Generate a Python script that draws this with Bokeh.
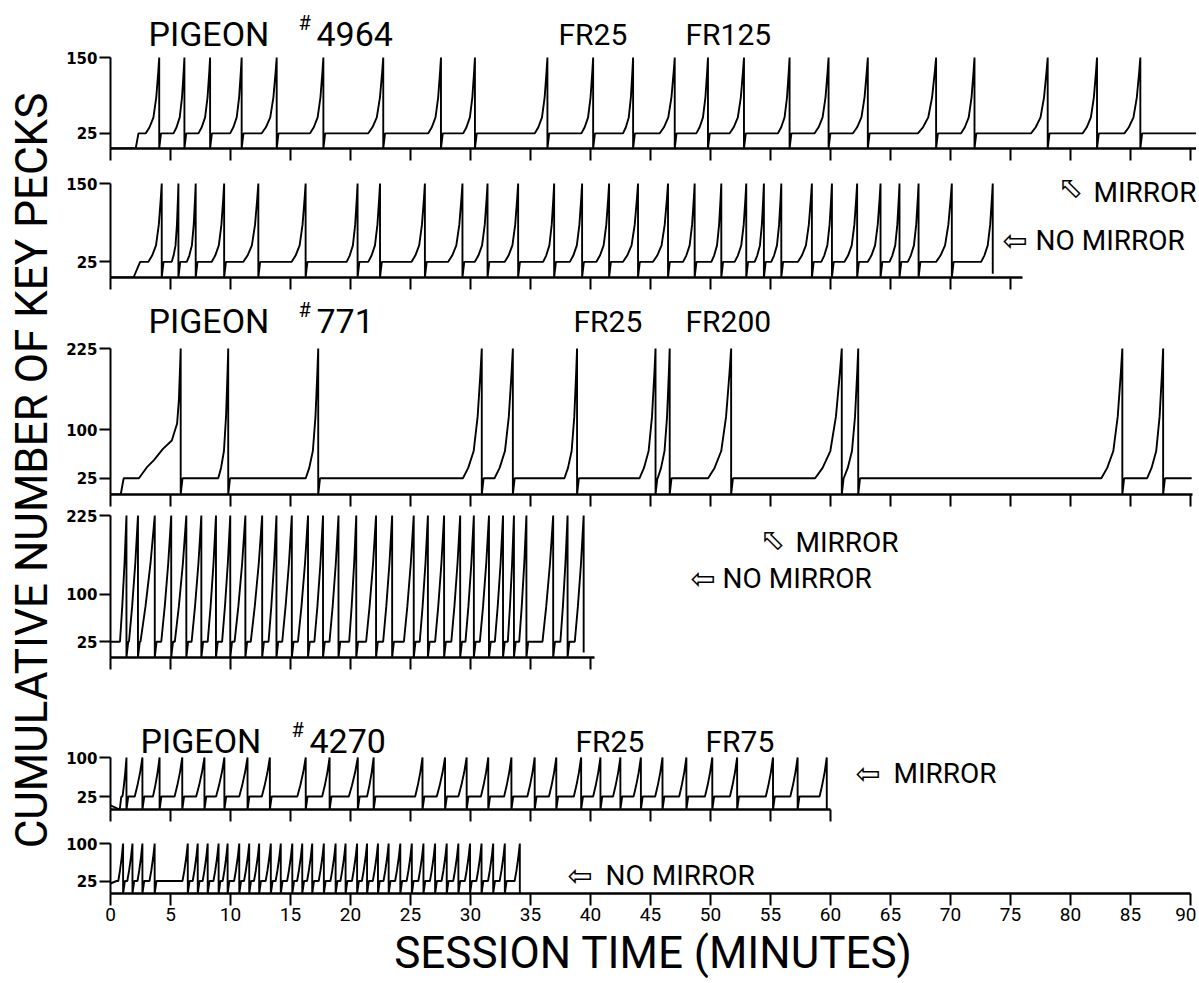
import math
from bokeh.plotting import figure
from bokeh.layouts import column, row
from bokeh.models import Range1d, FixedTicker
from bokeh.core.properties import value
from bokeh.embed import file_html
from bokeh.resources import INLINE

# ---------------- data (session minutes / cumulative key pecks) ----------------
minute_ticks = list(range(0, 95, 5))
minute_labels = [str(m) for m in minute_ticks]

# Pigeon 4964, mirror  (FR25 FR125)
p4964m_lead_t = [0.0, 2.10, 2.33]
p4964m_lead_v = [0, 0, 25]
p4964m_runs = [2.94, 5.25, 7.33, 9.97, 12.6, 16.63, 21.48, 26.48, 29.39, 35.36, 39.24,
               42.71, 45.77, 48.82, 51.6, 55.62, 58.68, 61.87, 67.28, 70.88, 76.71, 81.02, 84.49]
p4964m_resets = [4.06, 6.16, 8.30, 10.93, 13.85, 17.74, 22.73, 27.54, 30.37, 36.41, 40.22,
                 43.55, 47.02, 49.79, 52.79, 56.59, 59.84, 63.11, 68.80, 72.00, 78.10, 82.21, 85.82]

# Pigeon 4964, no mirror
p4964n_lead_t = [0.0, 1.92, 2.47]
p4964n_lead_v = [0, 0, 25]
p4964n_runs = [3.16, 5.10, 6.36, 8.44, 11.07, 15.10, 19.68, 21.48, 25.09, 28.14, 30.36, 32.86,
               36.05, 38.28, 40.49, 42.71, 45.21, 47.71, 50.07, 52.01, 53.68, 55.06, 57.29,
               59.23, 61.17, 63.11, 64.92, 66.44, 68.80, 72.55]
p4964n_resets = [4.27, 5.66, 7.10, 9.47, 12.32, 16.26, 20.59, 22.46, 26.20, 29.33, 31.42, 33.97,
                 36.97, 39.30, 41.55, 43.96, 46.46, 48.68, 50.90, 52.98, 54.45, 55.90, 58.45,
                 60.12, 62.22, 64.17, 65.75, 67.34, 70.11, 73.52]

# Pigeon 771, mirror  (FR25 FR200)
p771m_lead_t = [0.0, 0.85, 1.10, 2.37, 3.02, 3.62, 4.37, 5.11, 5.55, 5.70, 5.85]
p771m_lead_v = [0, 0, 25, 25, 41.7, 53.1, 70.3, 83.3, 109.4, 145.8, 225]
p771m_runs = [None, 8.98, 16.27, 29.37, 32.0, 37.83, 44.08, 45.6, 49.8, 58.72, 61.1, 82.57, 86.38]
p771m_resets = [5.85, 9.81, 17.31, 30.94, 33.53, 38.88, 45.42, 46.6, 51.72, 60.94, 62.31, 84.32, 87.72]

# Pigeon 771, no mirror
p771n_lead_t = [0.0]
p771n_lead_v = [25]
p771n_runs = [0.79, 1.54, 2.50, 4.23, 5.36, 6.76, 8.10, 9.30, 10.34, 11.69, 13.17, 14.31, 15.62,
              16.99, 18.25, 19.89, 21.30, 22.72, 24.45, 25.77, 27.05, 28.40, 29.58, 30.78, 32.03,
              33.11, 34.06, 36.0, 37.49, 38.69]
p771n_resets = [1.33, 2.29, 3.69, 5.06, 6.32, 7.57, 8.79, 9.98, 11.24, 12.64, 13.83, 15.11, 16.46,
                17.71, 19.0, 20.48, 22.13, 23.47, 25.27, 26.45, 27.8, 29.14, 30.28, 31.54, 32.71,
                33.62, 34.66, 36.89, 38.09, 39.43]

# Pigeon 4270, mirror  (FR25 FR75)
p4270m_lead_t = [0.0, 0.77, 0.90]
p4270m_lead_v = [8, 0, 25]
p4270m_runs = [1.0, 2.02, 3.54, 5.34, 7.14, 8.8, 10.73, 12.61, 15.57, 17.64, 19.86, 21.38, 25.39,
               27.19, 28.99, 30.87, 32.8, 34.74, 36.54, 38.61, 40.22, 41.88, 43.59, 45.39, 47.39,
               49.54, 51.62, 54.61, 56.65, 59.09]
p4270m_resets = [1.33, 2.66, 4.09, 5.98, 7.83, 9.49, 11.42, 13.28, 16.27, 18.26, 20.61, 21.93, 26.0,
                 27.88, 29.68, 31.48, 33.41, 35.35, 37.15, 39.22, 40.83, 42.49, 44.20, 46.0, 47.99,
                 50.15, 52.22, 55.21, 57.26, 59.69]

# Pigeon 4270, no mirror
p4270n_lead_t = [0.0, 0.5]
p4270n_lead_v = [20, 25]
p4270n_runs = [0.65, 1.4, 2.25, 3.25, 6.0, 6.85, 7.68, 8.58, 9.35, 10.3, 11.13, 11.96, 12.93, 13.76,
               14.72, 15.55, 16.38, 17.35, 18.33, 19.16, 20.12, 20.95, 21.86, 22.75, 23.72, 24.68,
               25.65, 26.62, 27.59, 28.56, 29.53, 30.49, 31.46, 32.43, 33.68]
p4270n_resets = [1.05, 1.83, 2.66, 3.68, 6.44, 7.27, 8.1, 9.01, 9.76, 10.73, 11.56, 12.39, 13.36,
                 14.19, 15.15, 15.98, 16.81, 17.78, 18.76, 19.59, 20.55, 21.38, 22.29, 23.18, 24.15,
                 25.11, 26.08, 27.05, 28.02, 28.99, 29.96, 30.92, 31.89, 32.86, 34.11]

# shape of one ratio run (fraction of run time, fraction of run height), read from the records
CURVED_T = [0.0, 0.28, 0.57, 0.78, 0.93, 1.0]
CURVED_V = [0.0, 0.08, 0.21, 0.475, 0.815, 1.0]
STRAIGHT_T = [0.0, 0.35, 0.7, 1.0]
STRAIGHT_V = [0.0, 0.28, 0.62, 1.0]
RISE = 0.15   # minutes the pen takes to climb the first 25 pecks after a reset


def trace(lead_t, lead_v, runs, resets, top, shape, end_t=None, last_drop=0):
    st, sv = shape
    xs, ys = list(lead_t), list(lead_v)
    n = len(resets)
    for i in range(n):
        r0, tr = runs[i], resets[i]
        if r0 is not None:
            xs.append(r0); ys.append(25)
            for ft, fv in zip(st[1:], sv[1:]):
                xs.append(r0 + ft * (tr - r0)); ys.append(25 + fv * (top - 25))
        if i == n - 1 and end_t is None:
            xs.append(tr); ys.append(last_drop)
        else:
            xs.append(tr); ys.append(0)
            xs.append(tr + RISE); ys.append(25)
    if end_t is not None:
        xs.append(end_t); ys.append(25)
    return xs, ys


CURVED = (CURVED_T, CURVED_V)
STRAIGHT = (STRAIGHT_T, STRAIGHT_V)

# ---------------- layout (page pixels) ----------------
X0_PX = 110
PXMIN = 12.0
XMAX = 90.5
FRAME_W = round(XMAX * PXMIN)
LEFT_W = 58
BORDER_L = X0_PX - LEFT_W
FONT = "Roboto"

x_range = Range1d(0, XMAX)


def xd(px):
    return (px - X0_PX) / PXMIN


def make_panel(fig_top, base, top_px, top_val, yticks, xbound, bottom, labels=False):
    frame_h = base - fig_top
    scale = (base - top_px) / top_val
    p = figure(width=BORDER_L + FRAME_W, height=frame_h + bottom, x_range=x_range,
               y_range=Range1d(0, frame_h / scale), output_backend="svg", toolbar_location=None,
               min_border_left=BORDER_L, min_border_right=0, min_border_top=0,
               min_border_bottom=bottom)
    p.outline_line_color = None
    p.grid.visible = False
    p.background_fill_color = "white"
    p.border_fill_color = "white"
    xa = p.xaxis[0]
    shown = [t for t in minute_ticks if t <= xbound]
    xa.bounds = (0, xbound)
    xa.axis_line_width = 2.6
    xa.major_tick_in = 0
    xa.minor_tick_in = 0
    if labels:
        xa.ticker = FixedTicker(ticks=shown)
        xa.major_label_overrides = {t: s for t, s in zip(minute_ticks, minute_labels)}
        xa.major_tick_line_width = 2
        xa.major_tick_out = 12
        xa.minor_tick_line_color = None
        xa.major_label_text_font = FONT
        xa.major_label_text_font_size = "19px"
        xa.major_label_standoff = 2
        xa.major_label_text_color = "black"
    else:
        # unlabeled panels: the 5-minute marks are drawn as (label-free) minor ticks
        xa.ticker = FixedTicker(ticks=[], minor_ticks=shown)
        xa.minor_tick_line_width = 2
        xa.minor_tick_line_color = "black"
        xa.minor_tick_out = 12
    ya = p.yaxis[0]
    ya.ticker = FixedTicker(ticks=yticks)
    ya.bounds = (0, top_val)
    ya.axis_line_width = 2
    ya.major_tick_line_width = 2
    ya.major_tick_out = 11
    ya.major_tick_in = 0
    ya.minor_tick_line_color = None
    ya.major_label_text_font = "DejaVu Sans"
    ya.major_label_text_font_style = "bold"
    ya.major_label_text_font_size = "15px"
    ya.major_label_standoff = 2
    ya.major_label_text_color = "black"

    def yd(py):
        return (base - py) / scale
    return p, yd


def add_text(p, x, y, txt, size, angle=0.0, font=FONT):
    p.text(x=[x], y=[y], text=[txt], text_font=value(font), text_font_size=size,
           text_align="left", text_baseline="middle", text_color="black", angle=angle)


LINE = dict(line_color="black", line_width=1.9)
ARROW = "\u21e6"

# panel 1
p1, y1 = make_panel(0, 148, 57, 150, [25, 150], 90.5, 15)
xs, ys = trace(p4964m_lead_t, p4964m_lead_v, p4964m_runs, p4964m_resets, 150, CURVED, end_t=90.5)
p1.line(xs, ys, **LINE)
add_text(p1, xd(148), y1(33), "PIGEON", "34px")
add_text(p1, xd(298), y1(22), "#", "20px")
add_text(p1, xd(316), y1(33), "4964", "34px")
add_text(p1, xd(558), y1(34), "FR25", "30px")
add_text(p1, xd(685), y1(34), "FR125", "30px")

# panel 2
p2, y2 = make_panel(163, 277, 183, 150, [25, 150], 76, 15)
xs, ys = trace(p4964n_lead_t, p4964n_lead_v, p4964n_runs, p4964n_resets, 150, CURVED, last_drop=6)
p2.line(xs, ys, **LINE)
add_text(p2, xd(1062), y2(178), ARROW, "30px", angle=-math.pi / 4, font="DejaVu Sans")
add_text(p2, xd(1093), y2(192), "MIRROR", "28px")
add_text(p2, xd(1002), y2(240), ARROW, "30px", font="DejaVu Sans")
add_text(p2, xd(1035), y2(240), "NO MIRROR", "28px")

# panel 3
p3, y3 = make_panel(292, 494, 348, 225, [25, 100, 225], 90.2, 14)
xs, ys = trace(p771m_lead_t, p771m_lead_v, p771m_runs, p771m_resets, 225, CURVED, end_t=90.1)
p3.line(xs, ys, **LINE)
add_text(p3, xd(148), y3(320), "PIGEON", "34px")
add_text(p3, xd(298), y3(309), "#", "20px")
add_text(p3, xd(316), y3(320), "771", "34px")
add_text(p3, xd(573), y3(321), "FR25", "30px")
add_text(p3, xd(685), y3(321), "FR200", "30px")

# panel 4
p4, y4 = make_panel(508, 657, 515, 225, [25, 100, 225], 40.3, 14)
xs, ys = trace(p771n_lead_t, p771n_lead_v, p771n_runs, p771n_resets, 225, STRAIGHT, last_drop=8)
p4.line(xs, ys, **LINE)
add_text(p4, xd(764), y4(530), ARROW, "30px", angle=-math.pi / 4, font="DejaVu Sans")
add_text(p4, xd(795), y4(542), "MIRROR", "28px")
add_text(p4, xd(690), y4(578), ARROW, "30px", font="DejaVu Sans")
add_text(p4, xd(722), y4(578), "NO MIRROR", "28px")

# panel 5
p5, y5 = make_panel(671, 809, 757, 100, [25, 100], 60, 13)
xs, ys = trace(p4270m_lead_t, p4270m_lead_v, p4270m_runs, p4270m_resets, 100, STRAIGHT, last_drop=0)
p5.line(xs, ys, **LINE)
add_text(p5, xd(140), y5(740), "PIGEON", "34px")
add_text(p5, xd(291), y5(729), "#", "20px")
add_text(p5, xd(309), y5(740), "4270", "34px")
add_text(p5, xd(575), y5(741), "FR25", "30px")
add_text(p5, xd(705), y5(741), "FR75", "30px")
add_text(p5, xd(855), y5(773), ARROW, "30px", font="DejaVu Sans")
add_text(p5, xd(893), y5(773), "MIRROR", "28px")

# panel 6
p6, y6 = make_panel(822, 893, 843, 100, [25, 100], 90, 90, labels=True)
xs, ys = trace(p4270n_lead_t, p4270n_lead_v, p4270n_runs, p4270n_resets, 100, STRAIGHT, last_drop=0)
p6.line(xs, ys, **LINE)
add_text(p6, xd(567), y6(875), ARROW, "30px", font="DejaVu Sans")
add_text(p6, xd(605), y6(875), "NO MIRROR", "28px")
xa6 = p6.xaxis[0]
xa6.axis_label = "SESSION TIME (MINUTES)"
xa6.axis_label_text_font = FONT
xa6.axis_label_text_font_size = "44px"
xa6.axis_label_text_font_style = "normal"
xa6.axis_label_text_color = "black"
xa6.axis_label_standoff = 3

panels = [p1, p2, p3, p4, p5, p6]
total_h = sum(p.height for p in panels)

# left strip with the shared y title
pl = figure(width=LEFT_W, height=total_h, x_range=Range1d(0, LEFT_W), y_range=Range1d(0, total_h),
            output_backend="svg", toolbar_location=None, min_border=0)
pl.axis.visible = False
pl.grid.visible = False
pl.outline_line_color = None
pl.text(x=[31], y=[total_h - 470], text=["CUMULATIVE NUMBER OF KEY PECKS"],
        text_font=value(FONT), text_font_size="44px", text_align="center",
        text_baseline="middle", angle=math.pi / 2, text_color="black")

layout = row(pl, column(*panels, spacing=0), spacing=0)
open("out.html", "w").write(file_html(layout, INLINE, "Cumulative records"))
